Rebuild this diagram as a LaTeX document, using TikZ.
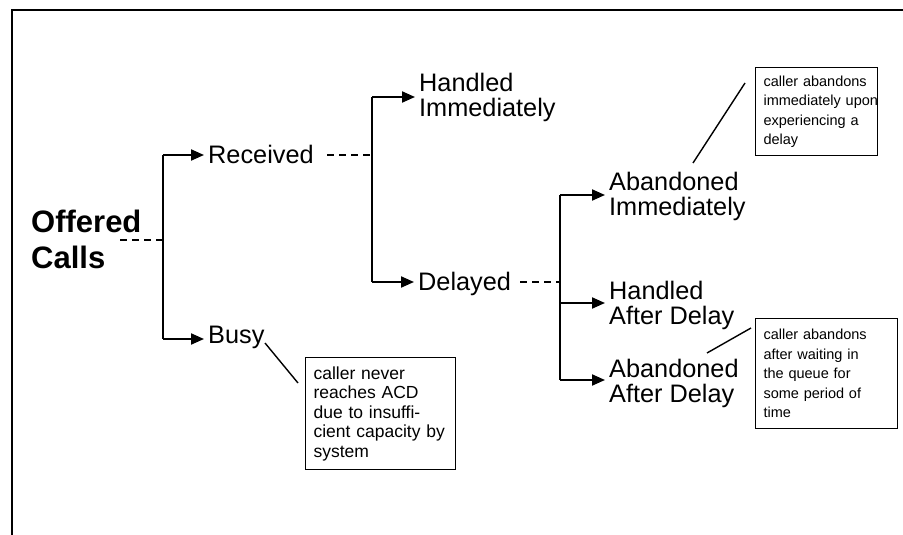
\documentclass[tikz,border=0pt]{standalone}
\usepackage{fontspec}
\setmainfont{Liberation Sans}
\usetikzlibrary{arrows.meta}
\begin{document}
\begin{tikzpicture}[x=1pt,y=-1pt,
  lbl/.style={anchor=west, inner sep=0pt, align=left, font=\fontsize{25.3}{25}\selectfont},
  hd/.style={lbl, font=\bfseries\fontsize{31}{36}\selectfont},
  note/.style={draw, line width=1.1pt, anchor=north west, inner xsep=8pt, inner ysep=0pt,
    align=left, font=\fontsize{14.5}{19.5}\selectfont},
  ln/.style={line width=2pt},
  arr/.style={ln, -{Triangle[length=13pt,width=11pt]}, shorten >=4pt},
  dsh/.style={ln, dash pattern=on 7pt off 5pt},
  lead/.style={line width=1.4pt}]
\useasboundingbox (0,0) rectangle (903,535);
% frame
\draw[line width=2.5pt] (12,536) -- (12,10) -- (904,10);

% labels
\node[hd]  (off)  at (31,239)  {Offered\\Calls};
\node[lbl] (rec)  at (208,154) {Received};
\node[lbl] (busy) at (208,337.5) {Busy};
\node[lbl] (hi)   at (419,97)  {Handled\\Immediately};
\node[lbl] (del)  at (418,283.5) {Delayed};
\node[lbl] (ai)   at (609,196) {Abandoned\\Immediately};
\node[lbl] (had)  at (609,305) {Handled\\After Delay};
\node[lbl] (aad)  at (609,383) {Abandoned\\After Delay};

% junction coordinates
\coordinate (d1s) at (120,240);
\coordinate (j1m) at (163,240);
\coordinate (j1t) at (163,155);
\coordinate (j1b) at (163,339);
\coordinate (d2s) at (327,155);
\coordinate (j2m) at (372,155);
\coordinate (j2t) at (372,97);
\coordinate (j2b) at (372,282);
\coordinate (d3s) at (520,282);
\coordinate (j3m) at (560,282);
\coordinate (j3t) at (560,195);
\coordinate (j3h) at (560,303);
\coordinate (j3b) at (560,380);

% level 1
\draw[dsh] (d1s) -- (j1m);
\draw[ln] (j1t) -- (j1b);
\draw[arr] (j1t) -- (rec.west |- j1t);
\draw[arr] (j1b) -- (busy.west |- j1b);
% level 2
\draw[dsh] (d2s) -- (j2m);
\draw[ln] (j2t) -- (j2b);
\draw[arr] (j2t) -- (hi.west |- j2t);
\draw[arr] (j2b) -- (del.west |- j2b);
% level 3
\draw[dsh] (d3s) -- (j3m);
\draw[ln] (j3t) -- (j3b);
\draw[arr] (j3t) -- (ai.west |- j3t);
\draw[arr] (j3h) -- (had.west |- j3h);
\draw[arr] (j3b) -- (aad.west |- j3b);

% notes
\node[note, text width=106pt, minimum height=88pt] (n1) at (755,67)
  {caller abandons\\\mbox{immediately upon}\\experiencing a\\delay};
\node[note, text width=134pt, minimum height=112pt, font=\fontsize{17.5}{19.5}\selectfont] (n2) at (305,357)
  {caller never\\reaches ACD\\due to insuffi-\\cient capacity by\\system};
\node[note, text width=126pt, minimum height=110pt] (n3) at (755,318)
  {caller abandons\\after waiting in\\the queue for\\some period of\\time};

% leader lines
\coordinate (l1a) at (693,163);
\coordinate (l1b) at (745,83);
\coordinate (l2a) at (265,343);
\coordinate (l2b) at (298,383);
\coordinate (l3a) at (707,353);
\coordinate (l3b) at (751,328);
\draw[lead] (l1a) -- (l1b);
\draw[lead] (l2a) -- (l2b);
\draw[lead] (l3a) -- (l3b);
\end{tikzpicture}
\end{document}
